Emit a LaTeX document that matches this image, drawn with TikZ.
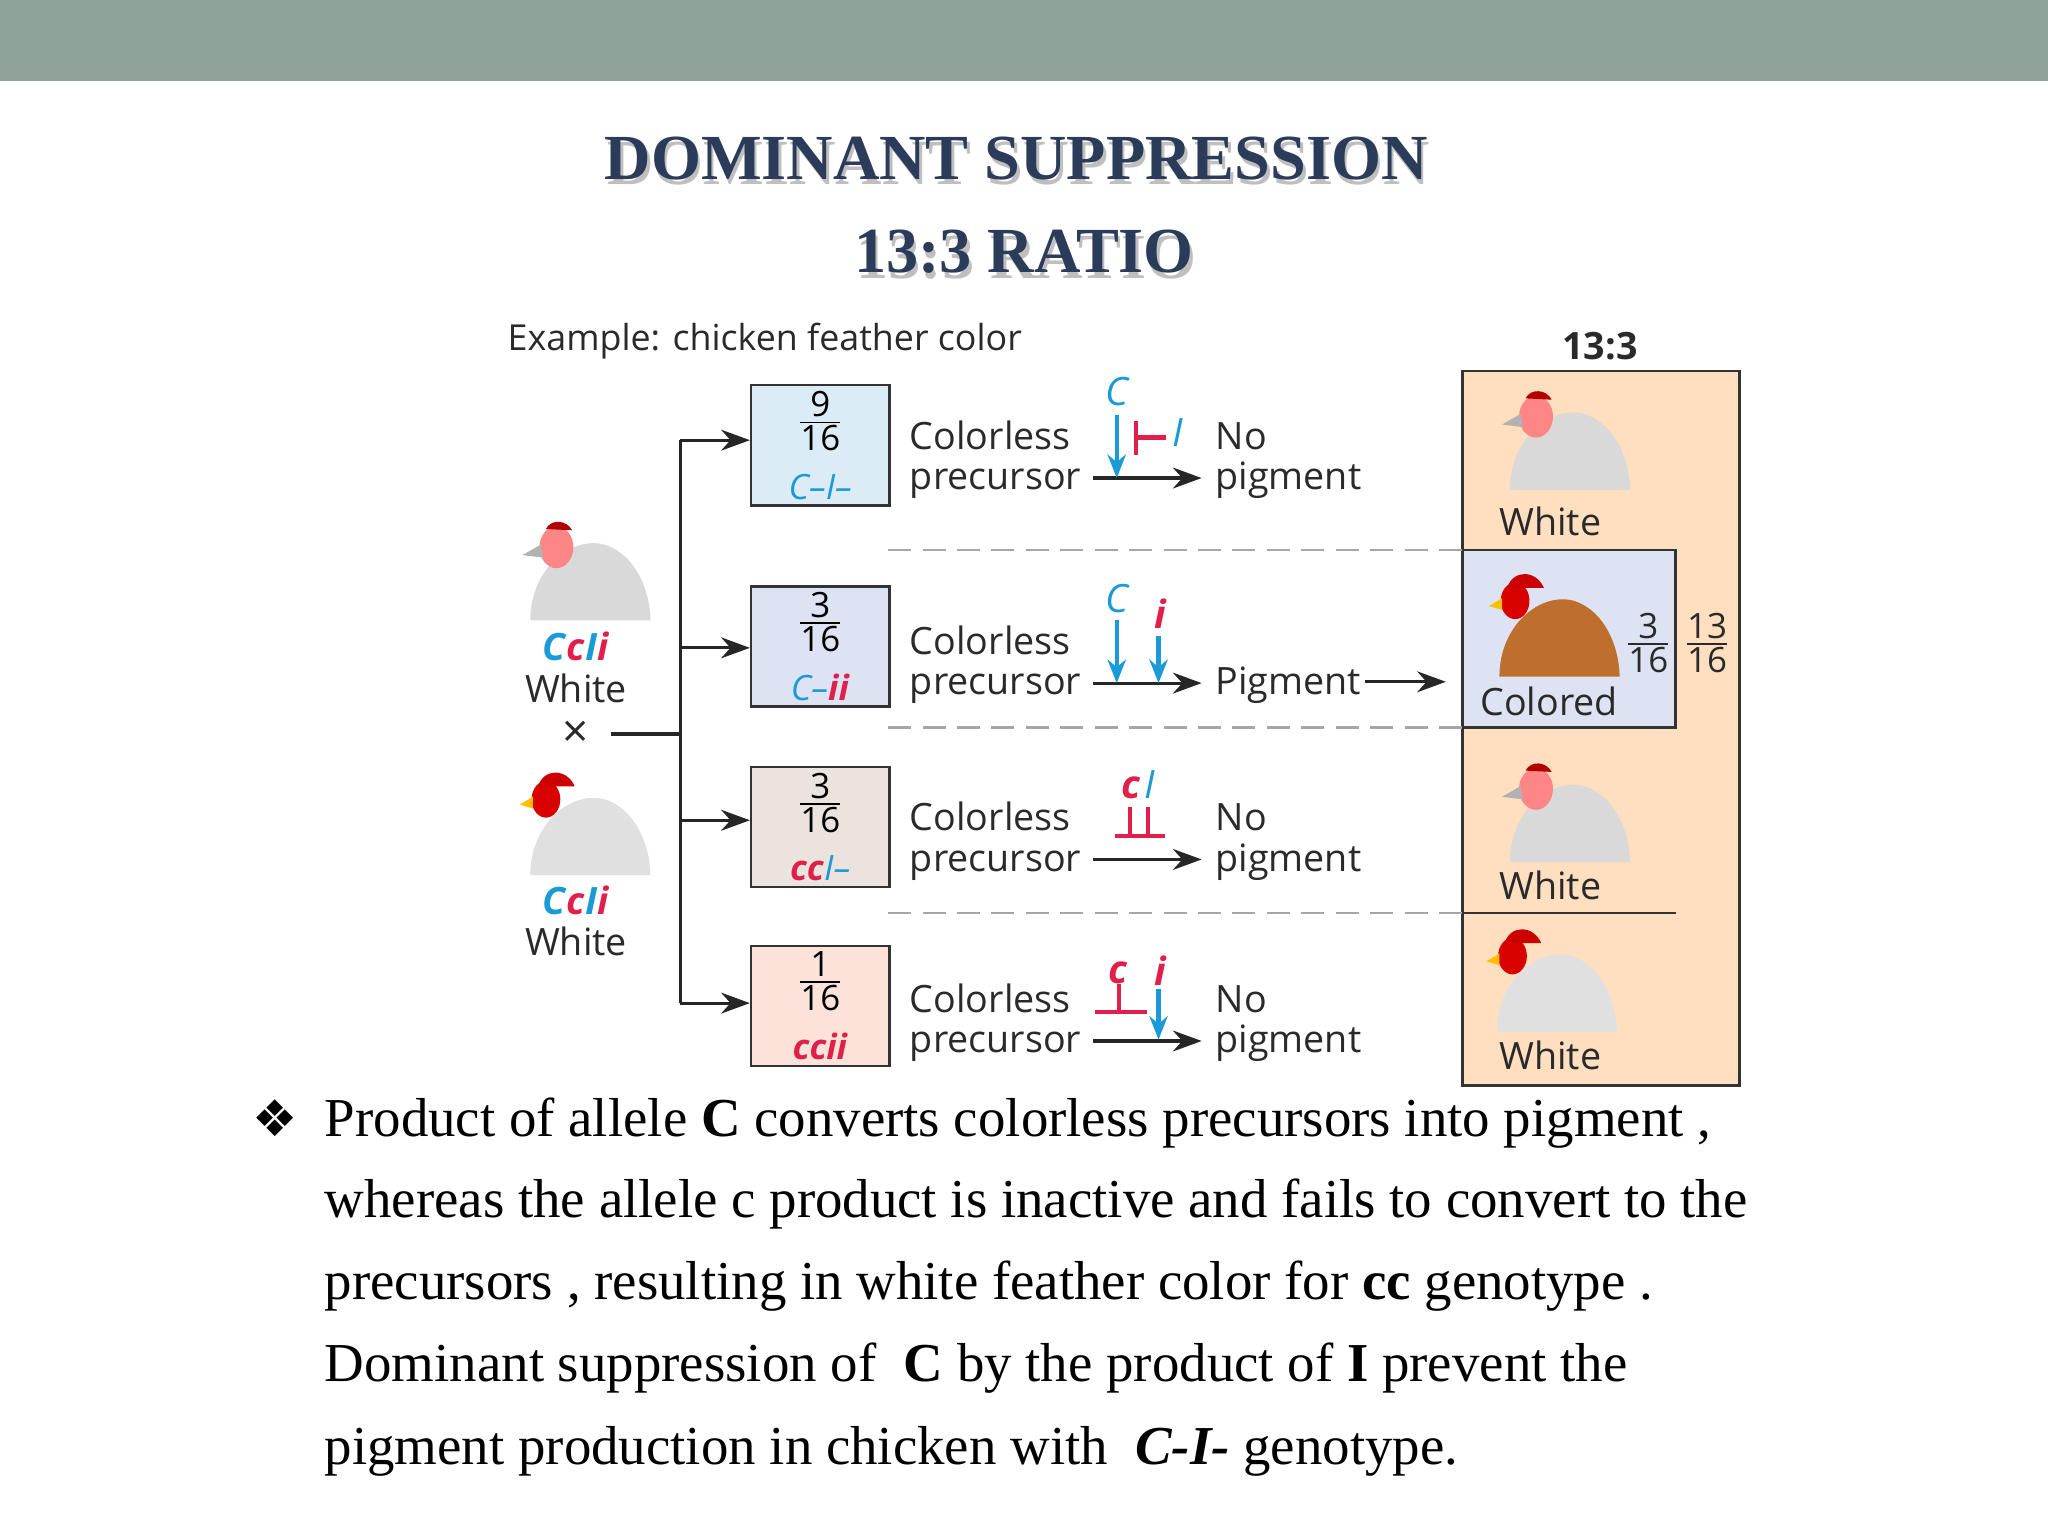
\documentclass[tikz,border=0pt]{standalone}
\usepackage{fontspec}
\setmainfont{Liberation Serif}
\newfontfamily\fig{Open Sans}
\newfontfamily\sym{DejaVu Sans}
\usetikzlibrary{arrows.meta}
\definecolor{cb}{HTML}{1A9AD6}
\definecolor{cr}{HTML}{E0204A}
\definecolor{tx}{HTML}{2A2A2A}
\definecolor{navy}{HTML}{2B3B5A}
\definecolor{topbar}{HTML}{8FA39A}
\definecolor{henbrown}{RGB}{190,110,45}
\definecolor{gA}{RGB}{220,236,247}
\definecolor{gB}{RGB}{221,227,243}
\definecolor{gC}{RGB}{235,227,222}
\definecolor{gD}{RGB}{251,227,218}
\newcommand{\Cb}[1]{\textcolor{cb}{\textit{#1}}}
\newcommand{\Cr}[1]{\textcolor{cr}{\textit{#1}}}
\newcommand{\fr}[2]{$\frac{\hbox{\fig #1}}{\hbox{\fig #2}}$}
\begin{document}
\begin{tikzpicture}[x=0.1mm,y=-0.1mm,
  lbl/.style={font=\fig\fontsize{8.2}{9.4}\selectfont,text=tx,inner sep=0pt},
  lbll/.style={lbl,align=left,anchor=base west},
  gbox/.style={draw=black!80,line width=0.5pt,minimum width=106*0.1mm,minimum height=92*0.1mm,align=center,font=\fig\fontsize{7.6}{8}\selectfont,inner sep=0pt},
  conn/.style={-{Stealth[length=2.2mm,width=1.6mm]},line width=0.7pt,black!85},
  barr/.style={-{Stealth[length=1.8mm,width=1.4mm]},line width=0.9pt,cb},
  rl/.style={line width=0.9pt,cr},
  dsh/.style={black!35,line width=0.5pt,dash pattern=on 5pt off 2.5pt},
  hen/.pic={
    \fill[black!15] (-42,40) .. controls (-42,0) and (-10,-25) .. (15,-18) .. controls (40,-10) and (50,20) .. (50,40) -- cycle;
    \fill[pink!70!red] (-22,-16) ellipse (13 and 16);
    \fill[red!70!black] (-30,-30) .. controls (-26,-38) and (-14,-37) .. (-10,-29) -- cycle;
    \fill[black!30] (-34,-18) -- (-48,-10) -- (-32,-8) -- cycle;
  },
  rhen/.pic={
    \fill[#1] (-42,40) .. controls (-42,0) and (-10,-25) .. (15,-18) .. controls (40,-10) and (50,20) .. (50,40) -- cycle;
    \fill[red!85!black] (-30,-18) ellipse (11 and 14);
    \fill[red!80!black] (-36,-28) .. controls (-32,-42) and (-14,-42) .. (-8,-28) -- cycle;
    \fill[orange!50!yellow] (-40,-20) -- (-50,-14) -- (-40,-11) -- cycle;
  }]
\useasboundingbox (0,0) rectangle (1568,1176);
\fill[white] (0,0) rectangle (1568,1176);
\fill[topbar] (0,0) rectangle (1568,62);
% title
\node[font=\bfseries\fontsize{14}{17}\selectfont,text=black!25] (t1s) at (780,125) {DOMINANT SUPPRESSION};
\node[font=\bfseries\fontsize{14}{17}\selectfont,text=navy] (t1) at (778,121) {DOMINANT SUPPRESSION};
\node[font=\bfseries\fontsize{14}{17}\selectfont,text=black!25] (t2s) at (786,197) {13:3 RATIO};
\node[font=\bfseries\fontsize{14}{17}\selectfont,text=navy] (t2) at (784,193) {13:3 RATIO};
% header
\node[lbl,anchor=west,font=\fig\fontsize{7.8}{9}\selectfont] (ex) at (388,261) {Example: chicken feather color};
\node[lbl,font=\fig\bfseries\fontsize{8.2}{9}\selectfont] (r133) at (1225,265) {13:3};
% right panel
\fill[orange!25!white] (1120,284) rectangle (1332,831);
\fill[gB] (1120,421) rectangle (1283,557);
\draw[black!80,line width=0.6pt] (1120,284) rectangle (1332,831);
\draw[black!80,line width=0.6pt] (1120,421) -- (1283,421) -- (1283,557) -- (1120,557);
\draw[black!80,line width=0.6pt] (1120,699) -- (1283,699);
% dashed lines
\draw[dsh] (680,421) -- (1120,421);
\draw[dsh] (680,557) -- (1120,557);
\draw[dsh] (680,699) -- (1120,699);
% genotype boxes
\node[gbox,fill=gA] (g1) at (628,341) {\fr{9}{16}\\[4pt]\Cb{C–I–}};
\node[gbox,fill=gB] (g2) at (628,495) {\fr{3}{16}\\[4pt]\Cb{C–}\Cr{\textbf{ii}}};
\node[gbox,fill=gC] (g3) at (628,633) {\fr{3}{16}\\[4pt]\Cr{\textbf{cc}}\Cb{I–}};
\node[gbox,fill=gD] (g4) at (628,770) {\fr{1}{16}\\[4pt]\Cr{\textbf{ccii}}};
% branch
\coordinate (b0) at (468,562);
\coordinate (bj) at (521,562);
\coordinate (bt) at (521,337);
\coordinate (bb) at (521,768);
\draw[line width=0.7pt,black!85] (b0) -- (bj);
\draw[line width=0.7pt,black!85] (bt) -- (bb);
\draw[conn] (bt) -- (g1.west |- bt);
\draw[conn] (521,496) -- (g2.west |- 0,496);
\draw[conn] (521,628) -- (g3.west |- 0,628);
\draw[conn] (bb) -- (g4.west |- bb);
\node[lbl,font=\fig\fontsize{10}{10}\selectfont] (x) at (441,562) {×};
% left hens
\pic at (448,435) {hen};
\pic at (448,630) {rhen=black!12};
\node[lbl,font=\fig\bfseries\fontsize{8.2}{9}\selectfont] (p1) at (441,495) {\Cb{C}\Cr{c}\Cb{I}\Cr{i}};
\node[lbl] (w1) at (441,527) {White};
\node[lbl,font=\fig\bfseries\fontsize{8.2}{9}\selectfont] (p2) at (441,689) {\Cb{C}\Cr{c}\Cb{I}\Cr{i}};
\node[lbl] (w2) at (441,721) {White};
% pathway rows
\foreach \y/\n in {335/1,492/2,627/3,766/4}{
  \node[lbll] (col\n) at (696,\y+9) {Colorless};
  \node[lbll] (pre\n) at (696,\y+40) {precursor};
  \coordinate (as\n) at (837,\y+31);
  \coordinate (ae\n) at (920,\y+31);
  \draw[conn] (as\n) -- (ae\n);
}
\foreach \y/\n in {335/1,627/3,766/4}{
  \node[lbll] (no\n) at (930,\y+9) {No};
  \node[lbll] (pg\n) at (930,\y+40) {pigment};
}
\node[lbll] (pig2) at (930,532) {Pigment};
\coordinate (pa) at (1045,522);
\coordinate (pb) at (1107,522);
\draw[conn] (pa) -- (pb);
% row 1 symbols
\node[lbl,font=\fig\fontsize{8.5}{9}\selectfont,text=cb] (c1) at (856,300) {\textit{C}};
\draw[barr] (855,318) -- (855,366);
\draw[rl] (870,322) -- (870,348);
\draw[rl] (870,335) -- (893,335);
\node[lbl,font=\fig\fontsize{8.5}{9}\selectfont,text=cb] (i1) at (902,331) {\textit{I}};
% row 2
\node[lbl,font=\fig\fontsize{8.5}{9}\selectfont,text=cb] (c2) at (856,458) {\textit{C}};
\node[lbl,font=\fig\bfseries\fontsize{8.5}{9}\selectfont,text=cr] (i2) at (889,470) {\textit{i}};
\draw[barr] (855,475) -- (855,523);
\draw[barr] (887,487) -- (887,523);
% row 3
\node[lbl,font=\fig\bfseries\fontsize{8.5}{9}\selectfont,text=cr] (c3) at (866,603) {\textit{c}};
\node[lbl,font=\fig\fontsize{8.5}{9}\selectfont,text=cb] (i3) at (880,601) {\textit{I}};
\draw[rl] (865,618) -- (865,640);
\draw[rl] (879,618) -- (879,640);
\draw[rl] (854,640) -- (892,640);
% row 4
\node[lbl,font=\fig\bfseries\fontsize{8.5}{9}\selectfont,text=cr] (c4) at (856,745) {\textit{c}};
\node[lbl,font=\fig\bfseries\fontsize{8.5}{9}\selectfont,text=cr] (i4) at (889,743) {\textit{i}};
\draw[rl] (857,753) -- (857,775);
\draw[rl] (838,775) -- (878,775);
\draw[barr] (887,757) -- (887,796);
% right hens
\pic at (1198,335) {hen};
\pic at (1190,478) {rhen=henbrown};
\pic at (1198,620) {hen};
\pic at (1188,750) {rhen=black!12};
\node[lbl] (rw1) at (1187,399) {White};
\node[lbl] (rc) at (1186,537) {Colored};
\node[lbl] (rw3) at (1187,678) {White};
\node[lbl] (rw4) at (1187,808) {White};
\node[lbl,font=\fig\fontsize{7.6}{9}\selectfont] (f316) at (1262,492) {\fr{3}{16}};
\node[lbl,font=\fig\fontsize{7.6}{9}\selectfont] (f1316) at (1307,492) {\fr{13}{16}};
% bullet text
\node[anchor=center,font=\sym\fontsize{11}{12}\selectfont] (bul) at (211,856) {❖};
\begin{scope}[every node/.style={anchor=base west,inner sep=0pt,font=\fontsize{11.95}{14}\selectfont}]
\node (l1) at (248,870) {Product of allele \textbf{C} converts colorless precursors into pigment ,};
\node (l2) at (248,932) {whereas the allele c product is inactive and fails to convert to the};
\node (l3) at (248,995) {precursors , resulting in white feather color for \textbf{cc} genotype .};
\node (l4) at (248,1058) {Dominant suppression of\ \ \textbf{C} by the product of \textbf{I} prevent the};
\node (l5) at (248,1121) {pigment production in chicken with\ \ \textbf{\textit{C-I-}} genotype.};
\end{scope}
\end{tikzpicture}
\end{document}
